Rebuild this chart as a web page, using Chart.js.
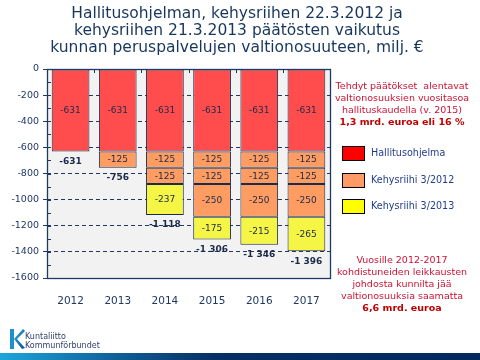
<!DOCTYPE html>
<html>
<head>
<meta charset="utf-8">
<script src="https://cdn.jsdelivr.net/npm/chart.js@4"></script>
<style>
  html, body { margin:0; padding:0; background:#fff; }
  #wrap { position:relative; width:480px; height:360px; overflow:hidden; font-family:"DejaVu Sans", Verdana, sans-serif; }
  #c { position:absolute; left:0; top:0; }
  #title { position:absolute; left:0; width:474px; top:5px; text-align:center; font-size:15.5px; line-height:17px; color:#17365d; }
  .note { position:absolute; left:326px; width:152px; text-align:center; font-size:9.5px; line-height:12px; color:#cc1133; }
  .note b { color:#c00000; }
  #legend { position:absolute; left:342px; top:146px; }
  .li { position:relative; height:26.5px; }
  .sw { position:absolute; left:0; top:0; width:23px; height:15px; border:1px solid #000; box-sizing:border-box; }
  .lt { position:absolute; left:29px; top:1px; font-size:9.6px; line-height:12px; color:#1f3b8c; white-space:nowrap; }
  #footer { position:absolute; left:0; top:353px; width:480px; height:7px; background:linear-gradient(to right,#1ea5dc 0%,#0f5d96 25%,#062f63 45%,#002a5c 100%); }
  #logotext { position:absolute; left:25px; top:333px; font-size:8px; line-height:8.5px; color:#2d3f6b; }
</style>
</head>
<body>
<div id="wrap">
  <canvas id="c" width="480" height="360"></canvas>
  <div id="title">Hallitusohjelman, kehysriihen 22.3.2012 ja<br>kehysriihen 21.3.2013 päätösten vaikutus<br>kunnan peruspalvelujen valtionosuuteen, milj. €</div>
  <div class="note" style="top:80px;">Tehdyt päätökset&nbsp; alentavat<br>valtionosuuksien vuositasoa<br>hallituskaudella (v. 2015)<br><b>1,3 mrd. euroa eli 16 %</b></div>
  <div id="legend"></div>
  <div class="note" style="top:254px;">Vuosille 2012-2017<br>kohdistuneiden leikkausten<br>johdosta kunnilta jää<br>valtionosuuksia saamatta<br><b>6,6 mrd. euroa</b></div>
  <svg style="position:absolute;left:8px;top:328px;" width="18" height="22" viewBox="0 0 18 22">
    <defs><linearGradient id="lg" x1="0" y1="0" x2="1" y2="1"><stop offset="0" stop-color="#27b0e6"/><stop offset="1" stop-color="#0b4f8c"/></linearGradient></defs>
    <path d="M2 1 L6 1 L6 21 L2 21 Z" fill="#1e8fcf"/>
    <path d="M6 11 L15 1 L17 3 L9 11 L17 20 L14 21 Z" fill="url(#lg)"/>
  </svg>
  <div id="logotext">Kuntaliitto<br>Kommunförbundet</div>
  <div id="footer"></div>
</div>
<script>
const categories = ['2012', '2013', '2014', '2015', '2016', '2017'];
const seriesNames = ['Hallitusohjelma', 'Kehysriihi 3/2012', 'Kehysriihi 3/2013'];
const hallitusohjelma = [-631, -631, -631, -631, -631, -631];
const kehysriihi2012a = [null, -125, -125, -125, -125, -125];
const kehysriihi2012b = [null, null, -125, -125, -125, -125];
const kehysriihi2012c = [null, null, null, -250, -250, -250];
const kehysriihi2013 = [null, null, -237, -175, -215, -265];
const yMin = -1600, yMax = 0, yLabelStep = 200, yMinorStep = 100;

const barColors = ['#ff4d4d', '#ff9c61', '#f5f545'];
const legendColors = ['#ff0000', '#ff9966', '#ffff00'];
const navy = '#1f3864';
const textNavy = '#1c2a4a';

// HTML legend
const lg = document.getElementById('legend');
seriesNames.forEach((n, i) => {
  const d = document.createElement('div');
  d.className = 'li';
  d.innerHTML = '<div class="sw" style="background:' + legendColors[i] + '"></div><div class="lt">' + n + '</div>';
  lg.appendChild(d);
});

const mk = (data, ci) => ({
  data: data, backgroundColor: barColors[ci], borderColor: '#1b2b4b', borderWidth: 1,
  borderSkipped: false, stack: 's', categoryPercentage: 1.0, barPercentage: 0.8
});

function fmt(v) {
  const s = Math.abs(v).toString();
  const t = s.length > 3 ? s.slice(0, s.length - 3) + ' ' + s.slice(s.length - 3) : s;
  return (v < 0 ? '-' : '') + t;
}

const bgPlugin = {
  id: 'bg',
  beforeDraw(chart) {
    const a = chart.chartArea, ctx = chart.ctx;
    ctx.save(); ctx.fillStyle = '#f2f2f2';
    ctx.fillRect(a.left, a.top, a.right - a.left, a.bottom - a.top);
    ctx.restore();
  },
  afterDatasetsDraw(chart) {
    const a = chart.chartArea, ctx = chart.ctx, y = chart.scales.y, x = chart.scales.x;
    ctx.save();
    ctx.strokeStyle = navy; ctx.lineWidth = 1;
    for (let v = yMax - yMinorStep; v > yMin; v -= yMinorStep) {
      const py = Math.round(y.getPixelForValue(v)) + 0.5;
      ctx.beginPath(); ctx.moveTo(a.left, py); ctx.lineTo(a.left + 4, py); ctx.stroke();
    }
    for (let i = 1; i < categories.length; i++) {
      const px = Math.round((x.getPixelForValue(i - 1) + x.getPixelForValue(i)) / 2) + 0.5;
      ctx.beginPath(); ctx.moveTo(px, a.top); ctx.lineTo(px, a.top + 4); ctx.stroke();
    }
    ctx.lineWidth = 1.3;
    ctx.strokeRect(Math.round(a.left) + 0.5, Math.round(a.top) + 0.5, Math.round(a.right - a.left), Math.round(a.bottom - a.top));
    ctx.font = '9px "DejaVu Sans"';
    ctx.fillStyle = textNavy; ctx.textAlign = 'center'; ctx.textBaseline = 'middle';
    chart.data.datasets.forEach((ds, di) => {
      const meta = chart.getDatasetMeta(di);
      meta.data.forEach((el, i) => {
        const v = ds.data[i];
        if (v === null || v === undefined) return;
        ctx.fillText(fmt(v), el.x, (el.y + el.base) / 2 + 0.5);
      });
    });
    ctx.font = 'bold 9px "DejaVu Sans"';
    categories.forEach((c, i) => {
      let sum = 0;
      chart.data.datasets.forEach(ds => { if (ds.data[i] != null) sum += ds.data[i]; });
      const px = x.getPixelForValue(i);
      const py = y.getPixelForValue(sum) + 10;
      ctx.fillText(fmt(sum), px, py);
    });
    ctx.restore();
  }
};

new Chart(document.getElementById('c'), {
  type: 'bar',
  data: {
    labels: categories,
    datasets: [
      mk(hallitusohjelma, 0),
      mk(kehysriihi2012a, 1),
      mk(kehysriihi2012b, 1),
      mk(kehysriihi2012c, 1),
      mk(kehysriihi2013, 2)
    ]
  },
  options: {
    responsive: false,
    animation: false,
    layout: { padding: { left: 0, right: 150, top: 69, bottom: 52 } },
    plugins: { legend: { display: false }, tooltip: { enabled: false } },
    scales: {
      x: {
        stacked: true,
        grid: { display: false },
        border: { display: false },
        ticks: { color: navy, font: { family: 'DejaVu Sans', size: 10.5 }, padding: 9 },
        afterFit(s) { s.height = 30; }
      },
      y: {
        stacked: true,
        min: yMin, max: yMax,
        ticks: {
          stepSize: yLabelStep,
          color: navy,
          font: { family: 'DejaVu Sans', size: 9.5 },
          padding: 4,
          callback: (v) => String(v)
        },
        grid: {
          color: (c) => (c.tick && c.tick.value < yMax && c.tick.value > yMin) ? navy : 'rgba(0,0,0,0)',
          tickColor: navy,
          tickLength: 4,
          lineWidth: 1
        },
        border: { display: false, dash: [4, 3] },
        afterFit(s) { s.width = 47; }
      }
    }
  },
  plugins: [bgPlugin]
});
</script>
</body>
</html>
